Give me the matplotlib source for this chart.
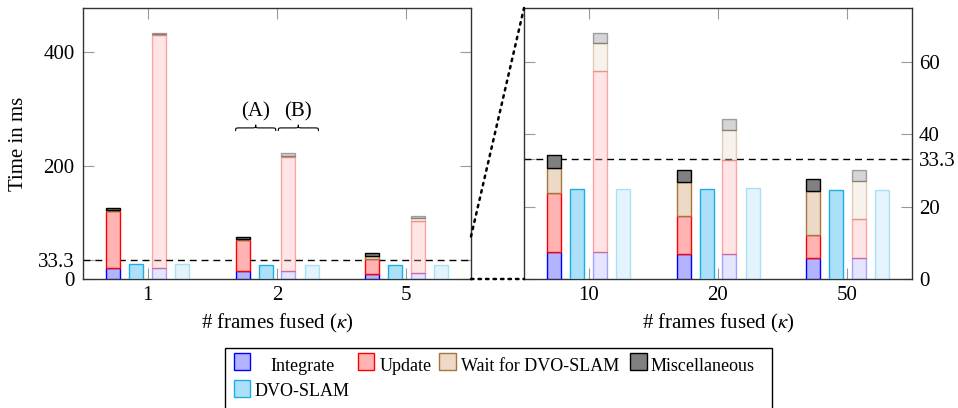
import numpy as np
import matplotlib.pyplot as plt
from matplotlib.patches import Rectangle, PathPatch, ConnectionPatch
from matplotlib.path import Path

plt.rcParams['font.family'] = ['Liberation Serif', 'DejaVu Serif']
plt.rcParams['mathtext.fontset'] = 'stix'

# kappa values, left panel (1, 2, 5) and right panel (10, 20, 50)
kappa_left = ['1', '2', '5']
kappa_right = ['10', '20', '50']

# (A) configuration, ms
integrate_a = [19, 14, 9, 7.6, 6.8, 5.7]
update_a = [101.5, 54.7, 26, 16.1, 10.7, 6.6]
wait_a = [1, 2, 5.5, 7.0, 9.4, 12.1]
misc_a = [3.5, 4, 5, 3.5, 3.4, 3.4]
dvo_a = [26, 25, 24.7, 24.8, 24.8, 24.7]

# (B) configuration, ms
integrate_b = [20, 14.5, 10, 7.5, 6.9, 5.7]
update_b = [410.5, 201, 92, 50.1, 26.0, 10.9]
wait_b = [1, 2, 5, 7.6, 8.2, 10.4]
misc_b = [3, 4, 4, 3.0, 3.1, 3.1]
dvo_b = [26, 25, 25, 25.0, 25.1, 24.7]

realtime = 33.3

colors = {
    'Integrate': ('#b3b3ff', '#0000ff'),
    'Update': ('#ffb3b3', '#ff0000'),
    'Wait for DVO-SLAM': ('#ecd9c6', '#a8743e'),
    'Miscellaneous': ('#808080', '#000000'),
    'DVO-SLAM': ('#ace0f8', '#1aaee6'),
}

FS = 15
W, H = 958, 408
fig = plt.figure(figsize=(W / 100, H / 100), dpi=100)
ax1 = fig.add_axes([83 / W, 1 - 279 / H, 388 / W, 271 / H])
ax2 = fig.add_axes([524 / W, 1 - 279 / H, 388 / W, 271 / H])

bw = 0.108
off = [-0.265, -0.088, 0.088, 0.267]


def stacked(ax, x, parts, alpha):
    bottom = np.zeros(len(x))
    for name, vals in parts:
        fc, ec = colors[name]
        ax.bar(x, vals, bw, bottom=bottom, color=fc, edgecolor=ec,
               linewidth=1.0, alpha=alpha, zorder=3)
        bottom = bottom + np.array(vals)


def draw_panel(ax, sl, labels):
    x = np.arange(len(labels))
    stacked(ax, x + off[0], [('Integrate', integrate_a[sl]), ('Update', update_a[sl]),
                             ('Wait for DVO-SLAM', wait_a[sl]), ('Miscellaneous', misc_a[sl])], 1.0)
    ax.bar(x + off[1], dvo_a[sl], bw, color=colors['DVO-SLAM'][0],
           edgecolor=colors['DVO-SLAM'][1], linewidth=1.0, zorder=3)
    stacked(ax, x + off[2], [('Integrate', integrate_b[sl]), ('Update', update_b[sl]),
                             ('Wait for DVO-SLAM', wait_b[sl]), ('Miscellaneous', misc_b[sl])], 0.33)
    ax.bar(x + off[3], dvo_b[sl], bw, color=colors['DVO-SLAM'][0],
           edgecolor=colors['DVO-SLAM'][1], linewidth=1.0, alpha=0.33, zorder=3)
    ax.axhline(realtime, color='black', linestyle=(0, (5, 3.5)), linewidth=1.0, zorder=2)
    ax.set_xlim(-0.5, 2.5)
    ax.set_xticks(x)
    ax.set_xticklabels(labels)
    ax.set_xlabel(r'# frames fused ($\kappa$)', fontsize=FS, labelpad=5)
    ax.tick_params(direction='in', length=8, width=0.8, color='#999999',
                   top=True, right=True, labelsize=FS, pad=5)
    ax.tick_params(axis='y', pad=6)
    for s in ax.spines.values():
        s.set_color('#333333')
        s.set_linewidth(1.0)


draw_panel(ax1, slice(0, 3), kappa_left)
draw_panel(ax2, slice(3, 6), kappa_right)

ax1.set_ylim(0, 478)
ax1.set_yticks([0, realtime, 200, 400])
ax1.set_yticklabels(['0', '33.3', '200', '400'])
ax1.set_ylabel('Time in ms', fontsize=FS, labelpad=7)

ax2.set_ylim(0, 75)
ax2.set_yticks([0, 20, realtime, 40, 60])
ax2.set_yticklabels(['0', '20', '33.3', '40', '60'])
ax2.tick_params(axis='y', labelleft=False, labelright=True, pad=5)


# curly braces over kappa = 2
def brace(ax, x0, x1, y0, h, r):
    xm = (x0 + x1) / 2
    verts = [(x0, y0), (x0, y0 + h / 2), (x0, y0 + h / 2), (x0 + r, y0 + h / 2),
             (xm - r, y0 + h / 2), (xm, y0 + h / 2), (xm, y0 + h / 2), (xm, y0 + h),
             (xm, y0 + h / 2), (xm, y0 + h / 2), (xm + r, y0 + h / 2),
             (x1 - r, y0 + h / 2), (x1, y0 + h / 2), (x1, y0 + h / 2), (x1, y0)]
    codes = [Path.MOVETO, Path.CURVE4, Path.CURVE4, Path.CURVE4,
             Path.LINETO, Path.CURVE4, Path.CURVE4, Path.CURVE4,
             Path.CURVE4, Path.CURVE4, Path.CURVE4,
             Path.LINETO, Path.CURVE4, Path.CURVE4, Path.CURVE4]
    ax.add_patch(PathPatch(Path(verts, codes), fill=False, lw=0.8, color='black'))


brace(ax1, 0.68, 0.99, 261, 11, 0.035)
brace(ax1, 1.01, 1.32, 261, 11, 0.035)
ax1.text(0.835, 277, '(A)', ha='center', va='bottom', fontsize=FS)
ax1.text(1.165, 277, '(B)', ha='center', va='bottom', fontsize=FS)

# zoom connectors
for ya, yb in [(0, 0), (75, 75)]:
    con = ConnectionPatch(xyA=(2.5, ya), coordsA=ax1.transData,
                          xyB=(-0.5, yb), coordsB=ax2.transData,
                          linestyle=(0, (1, 2)), linewidth=1.8, color='black')
    fig.add_artist(con)


# legend box
def fx(px):
    return px / W


def fy(py):
    return 1 - py / H


fig.add_artist(Rectangle((fx(225), fy(412)), fx(772) - fx(225), fy(347.5) - fy(412),
                         transform=fig.transFigure, fill=False, edgecolor='black', lw=1.0))
entries = [('Integrate', 233.5, 270.5, 353, 371), ('Update', 357.5, 379.5, 353, 371),
           ('Wait for DVO-SLAM', 439, 461, 353, 371), ('Miscellaneous', 630, 651, 353, 371),
           ('DVO-SLAM', 233.5, 255, 380, 396.5)]
for name, hx, tx, hy, base in entries:
    fc, ec = colors[name]
    fig.add_artist(Rectangle((fx(hx), fy(hy + 17)), 16.5 / W, 17 / H, transform=fig.transFigure,
                             facecolor=fc, edgecolor=ec, lw=1.0))
    fig.text(fx(tx), fy(base), name, ha='left', va='baseline', fontsize=13)

fig.savefig('out.png', dpi=100)
